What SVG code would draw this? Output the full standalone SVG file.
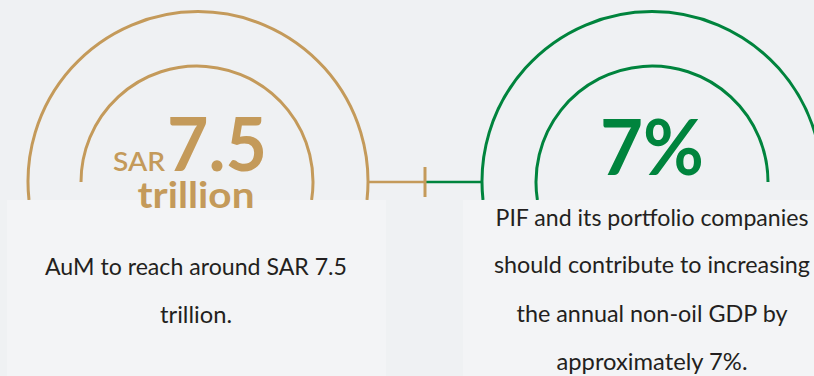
<svg xmlns="http://www.w3.org/2000/svg" width="814" height="376" viewBox="0 0 814 376">
<style>
.bg{fill:#eff1f3}
.panel{fill:#f3f4f6}
.arc{fill:none;stroke-width:3}
.gold{stroke:#c49a5a}
.green{stroke:#00843d}
.body{font-family:Lato,"Open Sans","Liberation Sans",sans-serif;font-size:23px;fill:#231f20;text-anchor:middle}
.big{font-family:Lato,"Open Sans","Liberation Sans",sans-serif;font-weight:bold;text-anchor:middle}
</style>
<rect class="bg" x="0" y="0" width="814" height="376"/>
<g id="connectors">
<line x1="368" y1="182" x2="425" y2="182" stroke="#c49a5a" stroke-width="2.5"/>
<line x1="425" y1="182" x2="482" y2="182" stroke="#00843d" stroke-width="2.5"/>
<line x1="425" y1="167" x2="425" y2="197" stroke="#c49a5a" stroke-width="3"/>
</g>
<g id="node-aum">
<path class="arc gold" d="M 29 200 A 170 170 0 1 1 367 200"/>
<path class="arc gold" d="M 81 182 A 116 116 0 1 1 311.6 200"/>
<rect class="panel" x="7" y="200" width="379" height="176"/>
<text x="139" y="171" font-family="Lato,'Open Sans','Liberation Sans',sans-serif" font-size="26" font-weight="600" fill="#c49a5a" text-anchor="middle" textLength="52" lengthAdjust="spacingAndGlyphs">SAR</text>
<text class="big" x="217" y="171" font-size="75" fill="#c49a5a" textLength="100" lengthAdjust="spacingAndGlyphs">7.5</text>
<text class="big" x="196" y="208" font-size="36" fill="#c49a5a" textLength="117" lengthAdjust="spacingAndGlyphs">trillion</text>
<text class="body" x="196" y="275" textLength="302" lengthAdjust="spacingAndGlyphs">AuM to reach around SAR 7.5</text>
<text class="body" x="196" y="323" textLength="72" lengthAdjust="spacingAndGlyphs">trillion.</text>
</g>
<g id="node-gdp">
<path class="arc green" d="M 483 200 A 170 170 0 1 1 821 200"/>
<path class="arc green" d="M 537.4 200 A 116 116 0 1 1 768 182"/>
<rect class="panel" x="463" y="200" width="351" height="176"/>
<text class="big" x="652" y="175" font-size="76" fill="#00843d" textLength="104" lengthAdjust="spacingAndGlyphs">7%</text>
<text class="body" x="652" y="226" textLength="313" lengthAdjust="spacingAndGlyphs">PIF and its portfolio companies</text>
<text class="body" x="652" y="273" textLength="316" lengthAdjust="spacingAndGlyphs">should contribute to increasing</text>
<text class="body" x="652" y="322" textLength="271" lengthAdjust="spacingAndGlyphs">the annual non-oil GDP by</text>
<text class="body" x="652" y="370" textLength="191" lengthAdjust="spacingAndGlyphs">approximately 7%.</text>
</g>
</svg>
